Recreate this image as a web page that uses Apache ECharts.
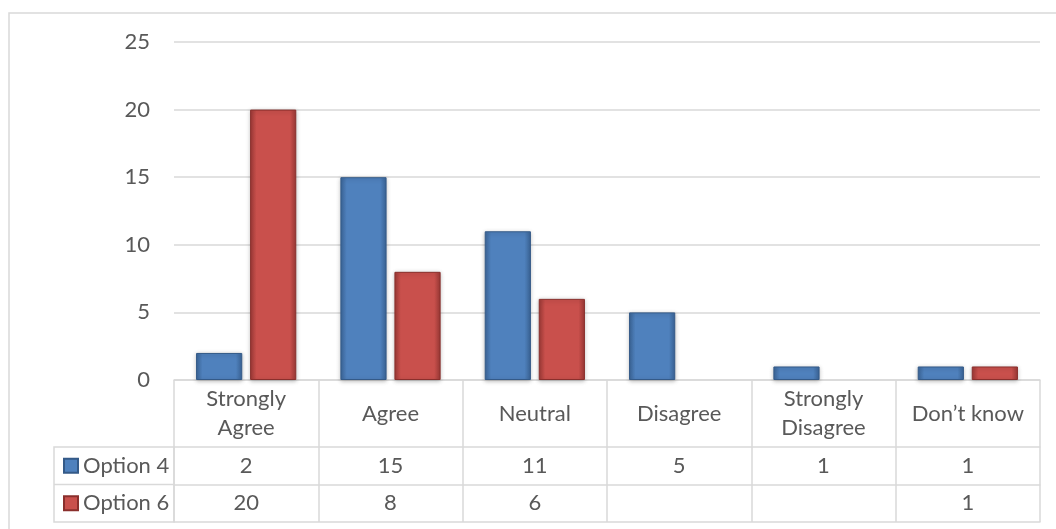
<!DOCTYPE html>
<html>
<head>
<meta charset="utf-8">
<script src="https://cdn.jsdelivr.net/npm/echarts@6/dist/echarts.min.js"></script>
<style>
  html, body { margin: 0; padding: 0; background: #ffffff; }
  #chart { width: 1056px; height: 529px; }
</style>
</head>
<body>
<div id="chart"></div>
<script>
// Survey responses per answer category
const categories = ['Strongly Agree', 'Agree', 'Neutral', 'Disagree', 'Strongly Disagree', 'Don\u2019t know'];
const option4 = [2, 15, 11, 5, 1, 1];
const option6 = [20, 8, 6, null, null, 1];
const seriesNames = ['Option 4', 'Option 6'];
const yTicks = { min: 0, max: 25, interval: 5 };

// Layout of the plot area and the data table beneath it
const W = 1056, H = 529;
const gridLeft = 174, gridRight = 1040, gridTop = 42, gridBottomY = 380;
const headerH = 67, rowH = 37.5;
const keyColLeft = 54;

const FONT = 'Lato';
const FS = 22;
const TXT = '#595959';
const LINE = '#D9D9D9';
const LW = 1.5;

function bevel(edge, mid) {
  return new echarts.graphic.LinearGradient(0, 0, 1, 0, [
    { offset: 0, color: edge },
    { offset: 0.14, color: mid },
    { offset: 0.86, color: mid },
    { offset: 1, color: edge }
  ]);
}
const blueFill = bevel('#3B6598', '#4F81BD');
const redFill = bevel('#9C3936', '#C9504C');

const row1Y = gridBottomY + headerH;
const row2Y = row1Y + rowH;
const row3Y = row2Y + rowH;

function valueRowAxis(offset, values) {
  return {
    type: 'category',
    gridIndex: 0,
    position: 'bottom',
    offset: offset,
    data: categories,
    axisLine: { show: true, lineStyle: { color: LINE, width: LW } },
    axisTick: { show: false },
    splitLine: { show: false },
    axisLabel: {
      show: !!values,
      interval: 0,
      margin: rowH / 2,
      verticalAlign: 'middle',
      fontFamily: FONT,
      fontSize: FS,
      color: TXT,
      formatter: (v, i) => (values && values[i] != null) ? String(values[i]) : ''
    }
  };
}

const chart = echarts.init(document.getElementById('chart'), null, { renderer: 'canvas' });
chart.setOption({
  animation: false,
  backgroundColor: '#ffffff',
  textStyle: { fontFamily: FONT },
  grid: { left: gridLeft, right: W - gridRight, top: gridTop, bottom: H - gridBottomY, containLabel: false },
  legend: {
    data: seriesNames,
    orient: 'vertical',
    left: 63,
    top: row1Y + rowH / 2 - 11,
    padding: 0,
    itemGap: rowH - 22,
    itemWidth: 14,
    itemHeight: 14,
    icon: 'rect',
    selectedMode: false,
    textStyle: { fontFamily: FONT, fontSize: FS, color: TXT, lineHeight: 22 }
  },
  xAxis: [
    {
      type: 'category',
      data: categories,
      boundaryGap: true,
      axisLine: { show: true, lineStyle: { color: LINE, width: LW } },
      axisTick: { show: true, inside: false, length: row3Y - gridBottomY, lineStyle: { color: LINE, width: LW } },
      axisLabel: {
        interval: 0,
        margin: headerH / 2,
        verticalAlign: 'middle',
        lineHeight: 29,
        fontFamily: FONT,
        fontSize: FS,
        color: TXT,
        // two-word "Strongly …" headers sit on two lines
        formatter: (v) => v.replace(/^Strongly /, 'Strongly\n')
      }
    },
    valueRowAxis(headerH, option4),
    valueRowAxis(headerH + rowH, option6),
    valueRowAxis(headerH + 2 * rowH, null)
  ],
  yAxis: {
    type: 'value',
    min: yTicks.min,
    max: yTicks.max,
    interval: yTicks.interval,
    axisLine: { show: false },
    axisTick: { show: false },
    axisLabel: { margin: 24, fontFamily: FONT, fontSize: FS, color: TXT },
    splitLine: { lineStyle: { color: LINE, width: LW } }
  },
  series: [
    {
      name: seriesNames[0],
      type: 'bar',
      data: option4,
      barWidth: '32%',
      barGap: '17%',
      itemStyle: { color: blueFill, borderColor: '#345A88', borderWidth: 1, shadowBlur: 4, shadowColor: 'rgba(0,0,0,0.25)', shadowOffsetY: 1 }
    },
    {
      name: seriesNames[1],
      type: 'bar',
      data: option6,
      barWidth: '32%',
      barGap: '17%',
      itemStyle: { color: redFill, borderColor: '#8A2F2C', borderWidth: 1, shadowBlur: 4, shadowColor: 'rgba(0,0,0,0.25)', shadowOffsetY: 1 }
    }
  ],
  graphic: [
    // chart frame
    { type: 'rect', silent: true, shape: { x: 9, y: 13, width: W + 20, height: H + 20 },
      style: { fill: 'none', stroke: LINE, lineWidth: LW } },
    // series-key column of the data table
    { type: 'rect', silent: true, shape: { x: keyColLeft, y: row1Y, width: gridLeft - keyColLeft, height: row3Y - row1Y },
      style: { fill: 'none', stroke: LINE, lineWidth: LW } },
    { type: 'line', silent: true, shape: { x1: keyColLeft, y1: row2Y, x2: gridLeft, y2: row2Y },
      style: { stroke: LINE, lineWidth: LW } }
  ]
});
</script>
</body>
</html>
